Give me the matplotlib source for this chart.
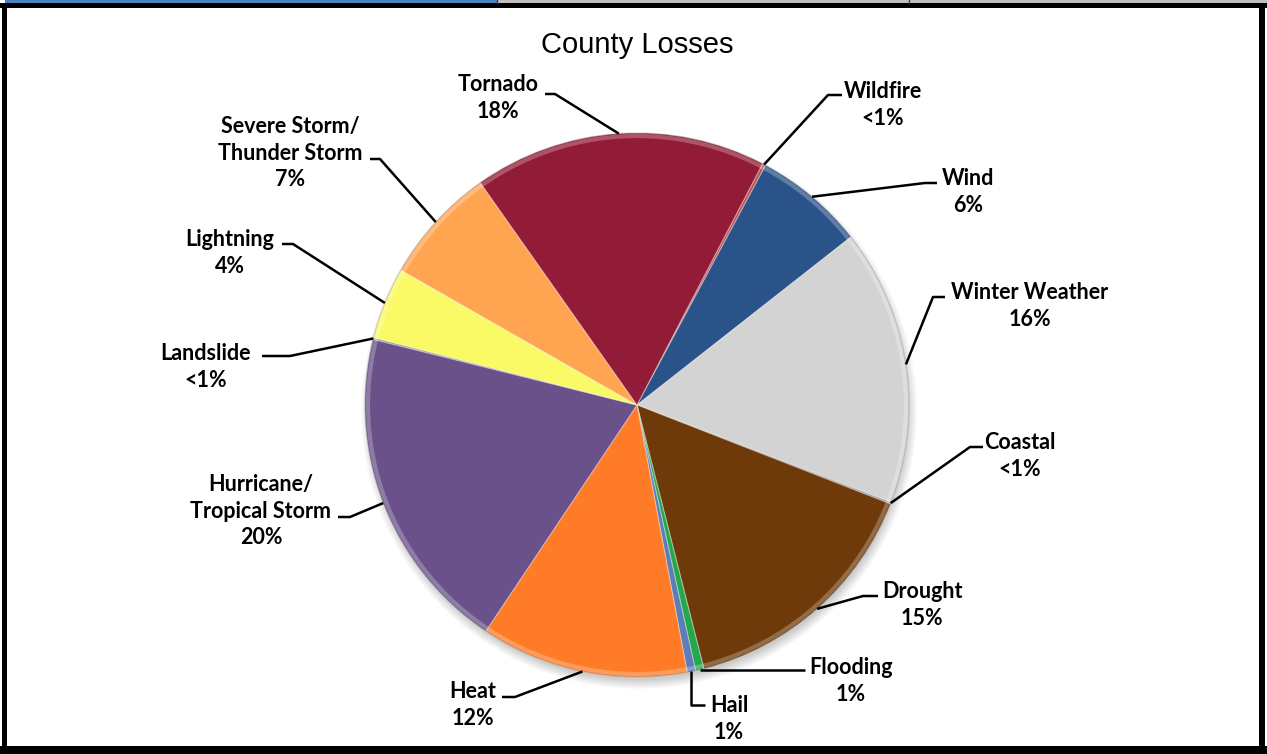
import numpy as np
import matplotlib.pyplot as plt
from matplotlib.patches import Circle, Rectangle

# data (clockwise from the top right)
hazards = ['Wildfire', 'Wind', 'Winter Weather', 'Coastal', 'Drought', 'Flooding', 'Hail',
           'Heat', 'Hurricane/\nTropical Storm', 'Landslide', 'Lightning',
           'Severe Storm/\nThunder Storm', 'Tornado']
losses = [0.2, 6.6, 16.5, 0.1, 15.2, 0.5, 0.5, 12.4, 19.6, 0.1, 4.3, 7.0, 17.5]
pct_labels = ['<1%', '6%', '16%', '<1%', '15%', '1%', '1%', '12%', '20%', '<1%', '4%', '7%', '18%']
colors = ['#C0504D', '#2A5389', '#D3D3D3', '#8A8A8A', '#6E3A0A', '#26A84A', '#5B7DB8',
          '#FF7B27', '#6A5189', '#8A8A8A', '#FAFA66', '#FFA552', '#921C38']

W, H = 1267, 754
def Y(py):
    return H - py

# label layout in pixels: text centre, elbow, end of the short horizontal tick
layout = {
    'Wildfire': ((883, 105), (828, 95), 842),
    'Wind': ((968, 192), (925, 183), 937),
    'Winter Weather': ((1030, 306), (933, 297), 945),
    'Coastal': ((1020, 456), (970, 447), 983),
    'Drought': ((922, 605), (863, 596), 878),
    'Flooding': ((851, 681), None, 805),
    'Hail': ((729, 719), ('a', 705), 705),
    'Heat': ((473, 705), (515, 697), 502),
    'Hurricane/\nTropical Storm': ((261, 511), (350, 517), 338),
    'Landslide': ((206, 367), (290, 356), 262),
    'Lightning': ((230, 253), (293, 244), 282),
    'Severe Storm/\nThunder Storm': ((290, 153), (380, 159), 370),
    'Tornado': ((498, 98), (555, 94), 545),
}

fig = plt.figure(figsize=(W / 100, H / 100), dpi=100)
ax = fig.add_axes([0, 0, 1, 1])

cx, cy, r = 637, Y(405), 272

# soft shadow under the pie
for i in range(10):
    ax.add_patch(Circle((cx + 2, cy - 6), r + 6 - i, color='#000000', alpha=0.018, lw=0, zorder=1))

wedges, _ = ax.pie(losses, colors=colors, startangle=62.5, counterclock=False,
                   center=(cx, cy), radius=r,
                   wedgeprops=dict(edgecolor=(1, 1, 1, 0.35), linewidth=0.8, zorder=2))

# rim highlight
ax.add_patch(Circle((cx, cy), r - 3, fill=False, ec=(1, 1, 1, 0.25), lw=3, zorder=3))
ax.add_patch(Circle((cx, cy), r, fill=False, ec=(0, 0, 0, 0.15), lw=1, zorder=3))

for w, name, pct in zip(wedges, hazards, pct_labels):
    mid = np.deg2rad((w.theta1 + w.theta2) / 2)
    axp, ayp = cx + r * np.cos(mid), cy + r * np.sin(mid)
    (tx, ty), elbow, hx = layout[name]
    if elbow is None:
        xs, ys = [axp, hx], [ayp, ayp]
    else:
        ex = axp if elbow[0] == 'a' else elbow[0]
        xs = [axp, ex, hx]
        ys = [ayp, Y(elbow[1]), Y(elbow[1])]
    ax.plot(xs, ys, color='black', lw=1.8, zorder=4, solid_capstyle='butt')
    ax.text(tx, Y(ty), name + '\n' + pct, ha='center', va='center', fontsize=15.5,
            fontweight='bold', family='Lato', linespacing=1.3, zorder=5)

ax.text(637, Y(45), 'County Losses', ha='center', va='center', fontsize=21,
        family='Liberation Sans')

# frame and top strip
ax.add_patch(Rectangle((5, Y(3)), 492, 3, color='#4F81BD', lw=0, zorder=6))
ax.add_patch(Rectangle((497, Y(3)), W - 497, 3, color='#C0C0C0', lw=0, zorder=6))
ax.plot([497, 497], [Y(0), Y(3)], color='#404040', lw=1, zorder=7)
ax.plot([909, 909], [Y(0), Y(3)], color='#404040', lw=1, zorder=7)
ax.add_patch(Rectangle((0, Y(8)), W, 5, color='black', lw=0, zorder=6))
ax.add_patch(Rectangle((0, 0), W, 8, color='black', lw=0, zorder=6))
ax.add_patch(Rectangle((2, 0), 5, Y(3), color='black', lw=0, zorder=6))
ax.add_patch(Rectangle((1259, 0), 6, Y(3), color='black', lw=0, zorder=6))

ax.set_xlim(0, W)
ax.set_ylim(0, H)
ax.set_aspect('equal')
ax.axis('off')

fig.savefig('out.png', dpi=100)
